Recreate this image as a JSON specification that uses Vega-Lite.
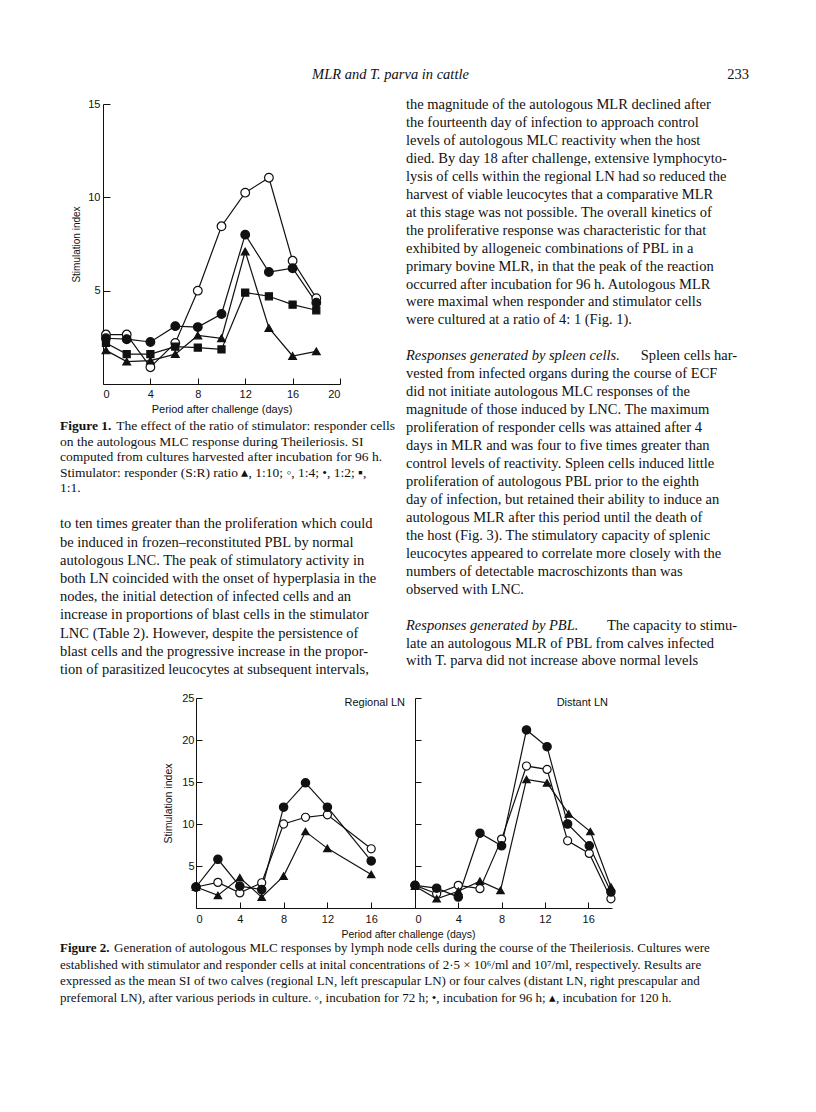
{
  "$schema": "https://vega.github.io/schema/vega-lite/v6.json",
  "background": "white",
  "padding": {"left": 60, "top": 65, "right": 20, "bottom": 20},
  "spacing": 13,
  "config": {
    "view": {"stroke": null},
    "axis": {"grid": false, "domainColor": "#111", "tickColor": "#111", "labelColor": "#111", "titleColor": "#111", "labelFont": "Liberation Sans", "titleFont": "Liberation Sans", "titleFontWeight": "normal", "domainWidth": 1, "tickWidth": 1}
  },
  "datasets": {
    "header": [
      {"pos": "center", "t": "MLR and T. parva in cattle"},
      {"pos": "right", "t": "233"}
    ],
    "fig1": [
      {"s": "1:4", "d": 0.25, "v": 2.65}, {"s": "1:4", "d": 2, "v": 2.65}, {"s": "1:4", "d": 4, "v": 0.9}, {"s": "1:4", "d": 6.1, "v": 2.2}, {"s": "1:4", "d": 8, "v": 5.0}, {"s": "1:4", "d": 10, "v": 8.45}, {"s": "1:4", "d": 12, "v": 10.25}, {"s": "1:4", "d": 14, "v": 11.05}, {"s": "1:4", "d": 16, "v": 6.6}, {"s": "1:4", "d": 18, "v": 4.6},
      {"s": "1:10", "d": 0.25, "v": 1.8}, {"s": "1:10", "d": 2, "v": 1.2}, {"s": "1:10", "d": 4, "v": 1.25}, {"s": "1:10", "d": 6.1, "v": 1.6}, {"s": "1:10", "d": 8, "v": 2.6}, {"s": "1:10", "d": 10, "v": 2.45}, {"s": "1:10", "d": 12, "v": 7.1}, {"s": "1:10", "d": 14, "v": 3.0}, {"s": "1:10", "d": 16, "v": 1.5}, {"s": "1:10", "d": 18, "v": 1.75},
      {"s": "1:1", "d": 0.25, "v": 2.2}, {"s": "1:1", "d": 2, "v": 1.6}, {"s": "1:1", "d": 4, "v": 1.6}, {"s": "1:1", "d": 6.1, "v": 2.0}, {"s": "1:1", "d": 8, "v": 1.95}, {"s": "1:1", "d": 10, "v": 1.85}, {"s": "1:1", "d": 12, "v": 4.9}, {"s": "1:1", "d": 14, "v": 4.7}, {"s": "1:1", "d": 16, "v": 4.25}, {"s": "1:1", "d": 18, "v": 3.95},
      {"s": "1:2", "d": 0.25, "v": 2.45}, {"s": "1:2", "d": 2, "v": 2.4}, {"s": "1:2", "d": 4, "v": 2.25}, {"s": "1:2", "d": 6.1, "v": 3.1}, {"s": "1:2", "d": 8, "v": 3.05}, {"s": "1:2", "d": 10, "v": 3.75}, {"s": "1:2", "d": 12, "v": 8.0}, {"s": "1:2", "d": 14, "v": 6.0}, {"s": "1:2", "d": 16, "v": 6.2}, {"s": "1:2", "d": 18, "v": 4.35}
    ],
    "regional": [
      {"s": "72 h", "d": 0, "v": 2.5}, {"s": "72 h", "d": 2, "v": 3.05}, {"s": "72 h", "d": 4, "v": 1.8}, {"s": "72 h", "d": 6, "v": 3.0}, {"s": "72 h", "d": 8, "v": 10.0}, {"s": "72 h", "d": 10, "v": 10.8}, {"s": "72 h", "d": 12, "v": 11.1}, {"s": "72 h", "d": 16, "v": 7.05},
      {"s": "120 h", "d": 0, "v": 2.5}, {"s": "120 h", "d": 2, "v": 1.5}, {"s": "120 h", "d": 4, "v": 3.6}, {"s": "120 h", "d": 6, "v": 1.3}, {"s": "120 h", "d": 8, "v": 3.8}, {"s": "120 h", "d": 10, "v": 9.1}, {"s": "120 h", "d": 12, "v": 7.1}, {"s": "120 h", "d": 16, "v": 4.0},
      {"s": "96 h", "d": 0, "v": 2.5}, {"s": "96 h", "d": 2, "v": 5.8}, {"s": "96 h", "d": 4, "v": 2.6}, {"s": "96 h", "d": 6, "v": 2.2}, {"s": "96 h", "d": 8, "v": 12.0}, {"s": "96 h", "d": 10, "v": 14.9}, {"s": "96 h", "d": 12, "v": 12.0}, {"s": "96 h", "d": 16, "v": 5.6}
    ],
    "distant": [
      {"s": "72 h", "d": 0, "v": 2.7}, {"s": "72 h", "d": 2, "v": 1.7}, {"s": "72 h", "d": 4, "v": 2.7}, {"s": "72 h", "d": 6, "v": 2.3}, {"s": "72 h", "d": 8, "v": 8.2}, {"s": "72 h", "d": 10.3, "v": 16.9}, {"s": "72 h", "d": 12.2, "v": 16.5}, {"s": "72 h", "d": 14.1, "v": 8.0}, {"s": "72 h", "d": 16.1, "v": 6.5}, {"s": "72 h", "d": 18.1, "v": 1.1},
      {"s": "96 h", "d": 0, "v": 2.7}, {"s": "96 h", "d": 2, "v": 2.36}, {"s": "96 h", "d": 4, "v": 1.3}, {"s": "96 h", "d": 6, "v": 8.9}, {"s": "96 h", "d": 8, "v": 7.4}, {"s": "96 h", "d": 10.3, "v": 21.2}, {"s": "96 h", "d": 12.2, "v": 19.2}, {"s": "96 h", "d": 14.1, "v": 10.0}, {"s": "96 h", "d": 16.1, "v": 7.4}, {"s": "96 h", "d": 18.1, "v": 1.9},
      {"s": "120 h", "d": 0, "v": 2.6}, {"s": "120 h", "d": 2, "v": 1.1}, {"s": "120 h", "d": 4, "v": 2.0}, {"s": "120 h", "d": 6, "v": 3.2}, {"s": "120 h", "d": 7.9, "v": 2.1}, {"s": "120 h", "d": 10.3, "v": 15.3}, {"s": "120 h", "d": 12.2, "v": 14.9}, {"s": "120 h", "d": 14.2, "v": 11.2}, {"s": "120 h", "d": 16.2, "v": 9.1}, {"s": "120 h", "d": 18.1, "v": 2.5}
    ],
    "caption1": [
      {"i": 0, "seg": "bold", "t": "Figure 1."},
      {"i": 0, "seg": "tail", "t": "The effect of the ratio of stimulator: responder cells"},
      {"i": 1, "seg": "main", "t": "on the autologous MLC response during Theileriosis. SI"},
      {"i": 2, "seg": "main", "t": "computed from cultures harvested after incubation for 96 h."},
      {"i": 3, "seg": "main", "t": "Stimulator: responder (S:R) ratio ▴, 1:10; ◦, 1:4; •, 1:2; ▪,"},
      {"i": 4, "seg": "main", "t": "1:1."},
      {"i": 5, "seg": "main", "t": ""}
    ],
    "para1": [
      {"i": 0, "t": "to ten times greater than the proliferation which could"},
      {"i": 1, "t": "be induced in frozen–reconstituted PBL by normal"},
      {"i": 2, "t": "autologous LNC. The peak of stimulatory activity in"},
      {"i": 3, "t": "both LN coincided with the onset of hyperplasia in the"},
      {"i": 4, "t": "nodes, the initial detection of infected cells and an"},
      {"i": 5, "t": "increase in proportions of blast cells in the stimulator"},
      {"i": 6, "t": "LNC (Table 2). However, despite the persistence of"},
      {"i": 7, "t": "blast cells and the progressive increase in the propor-"},
      {"i": 8, "t": "tion of parasitized leucocytes at subsequent intervals,"}
    ],
    "right": [
      {"i": 0, "seg": "main", "t": "the magnitude of the autologous MLR declined after"},
      {"i": 1, "seg": "main", "t": "the fourteenth day of infection to approach control"},
      {"i": 2, "seg": "main", "t": "levels of autologous MLC reactivity when the host"},
      {"i": 3, "seg": "main", "t": "died. By day 18 after challenge, extensive lymphocyto-"},
      {"i": 4, "seg": "main", "t": "lysis of cells within the regional LN had so reduced the"},
      {"i": 5, "seg": "main", "t": "harvest of viable leucocytes that a comparative MLR"},
      {"i": 6, "seg": "main", "t": "at this stage was not possible. The overall kinetics of"},
      {"i": 7, "seg": "main", "t": "the proliferative response was characteristic for that"},
      {"i": 8, "seg": "main", "t": "exhibited by allogeneic combinations of PBL in a"},
      {"i": 9, "seg": "main", "t": "primary bovine MLR, in that the peak of the reaction"},
      {"i": 10, "seg": "main", "t": "occurred after incubation for 96 h. Autologous MLR"},
      {"i": 11, "seg": "main", "t": "were maximal when responder and stimulator cells"},
      {"i": 12, "seg": "main", "t": "were cultured at a ratio of 4: 1 (Fig. 1)."},
      {"i": 13, "seg": "main", "t": ""},
      {"i": 14, "seg": "ital", "t": "   Responses generated by spleen cells."},
      {"i": 14, "seg": "tail", "t": "Spleen cells har-"},
      {"i": 15, "seg": "main", "t": "vested from infected organs during the course of ECF"},
      {"i": 16, "seg": "main", "t": "did not initiate autologous MLC responses of the"},
      {"i": 17, "seg": "main", "t": "magnitude of those induced by LNC. The maximum"},
      {"i": 18, "seg": "main", "t": "proliferation of responder cells was attained after 4"},
      {"i": 19, "seg": "main", "t": "days in MLR and was four to five times greater than"},
      {"i": 20, "seg": "main", "t": "control levels of reactivity. Spleen cells induced little"},
      {"i": 21, "seg": "main", "t": "proliferation of autologous PBL prior to the eighth"},
      {"i": 22, "seg": "main", "t": "day of infection, but retained their ability to induce an"},
      {"i": 23, "seg": "main", "t": "autologous MLR after this period until the death of"},
      {"i": 24, "seg": "main", "t": "the host (Fig. 3). The stimulatory capacity of splenic"},
      {"i": 25, "seg": "main", "t": "leucocytes appeared to correlate more closely with the"},
      {"i": 26, "seg": "main", "t": "numbers of detectable macroschizonts than was"},
      {"i": 27, "seg": "main", "t": "observed with LNC."},
      {"i": 28, "seg": "main", "t": ""},
      {"i": 29, "seg": "ital", "t": "   Responses generated by PBL."},
      {"i": 29, "seg": "tail", "t": "The capacity to stimu-"},
      {"i": 30, "seg": "main", "t": "late an autologous MLR of PBL from calves infected"},
      {"i": 31, "seg": "main", "t": "with T. parva did not increase above normal levels"}
    ],
    "caption2": [
      {"i": 0, "seg": "bold", "t": "Figure 2."},
      {"i": 0, "seg": "tail", "t": "Generation of autologous MLC responses by lymph node cells during the course of the Theileriosis. Cultures were"},
      {"i": 1, "seg": "main", "t": "established with stimulator and responder cells at inital concentrations of 2·5 × 10⁶/ml and 10⁷/ml, respectively. Results are"},
      {"i": 2, "seg": "main", "t": "expressed as the mean SI of two calves (regional LN, left prescapular LN) or four calves (distant LN, right prescapular and"},
      {"i": 3, "seg": "main", "t": "prefemoral LN), after various periods in culture. ◦, incubation for 72 h; •, incubation for 96 h; ▴, incubation for 120 h."}
    ]
  },
  "vconcat": [
    {
      "width": 689,
      "height": 19,
      "data": {"name": "header"},
      "layer": [
        {
          "transform": [{"filter": "datum.pos == 'center'"}],
          "mark": {"type": "text", "font": "Liberation Serif", "fontStyle": "italic", "fontSize": 14.5, "align": "center", "baseline": "middle", "color": "#111", "dx": -14},
          "encoding": {
            "x": {"field": "pos", "type": "nominal", "scale": {"type": "point", "domain": ["left", "center", "right"], "padding": 0}, "axis": null},
            "text": {"field": "t"}
          }
        },
        {
          "transform": [{"filter": "datum.pos == 'right'"}],
          "mark": {"type": "text", "font": "Liberation Serif", "fontSize": 14.5, "align": "right", "baseline": "middle", "color": "#111"},
          "encoding": {
            "x": {"field": "pos", "type": "nominal", "scale": {"type": "point", "domain": ["left", "center", "right"], "padding": 0}, "axis": null},
            "text": {"field": "t"}
          }
        }
      ]
    },
    {
      "spacing": 6,
      "hconcat": [
        {
          "spacing": 3.6,
          "vconcat": [
            {
              "bounds": "flush",
              "spacing": 0,
              "hconcat": [
                {"width": 43, "height": 1, "data": {"values": []}, "mark": "point", "encoding": {}},
                {
                  "width": 237,
                  "height": 280,
                  "data": {"name": "fig1"},
                  "encoding": {
                    "x": {"field": "d", "type": "quantitative", "scale": {"domain": [0, 20]}, "axis": {"values": [0, 4, 8, 12, 16, 20], "tickSize": -6, "labelPadding": 10, "labelFontSize": 11, "title": "Period after challenge (days)", "titleFontSize": 11, "titlePadding": 4.5}},
                    "y": {"field": "v", "type": "quantitative", "scale": {"domain": [0, 15]}, "axis": {"values": [5, 10, 15], "tickSize": -7, "labelPadding": 10, "labelFontSize": 11, "title": "Stimulation index", "titleFontSize": 10, "titlePadding": 6}}
                  },
                  "layer": [
                    {"mark": {"type": "line", "color": "#111", "strokeWidth": 1.2}, "encoding": {"detail": {"field": "s"}}},
                    {
                      "mark": {"type": "point", "filled": true, "opacity": 1, "stroke": "#111", "strokeWidth": 1.2},
                      "encoding": {
                        "shape": {"field": "s", "type": "nominal", "scale": {"domain": ["1:10", "1:4", "1:2", "1:1", "72 h", "96 h", "120 h"], "range": ["triangle-up", "circle", "circle", "square", "circle", "circle", "triangle-up"]}, "legend": null},
                        "fill": {"field": "s", "type": "nominal", "scale": {"domain": ["1:10", "1:4", "1:2", "1:1", "72 h", "96 h", "120 h"], "range": ["#111", "#ffffff", "#111", "#111", "#ffffff", "#111", "#111"]}, "legend": null},
                        "size": {"field": "s", "type": "nominal", "scale": {"type": "ordinal", "domain": ["1:10", "1:4", "1:2", "1:1", "72 h", "96 h", "120 h"], "range": [60, 75, 75, 50, 65, 70, 55]}, "legend": null}
                      }
                    }
                  ]
                }
              ]
            },
            {
              "width": 335,
              "height": {"step": 15.5},
              "data": {"name": "caption1"},
              "encoding": {
                "y": {"field": "i", "type": "ordinal", "axis": null},
                "text": {"field": "t"}
              },
              "layer": [
                {
                  "transform": [{"filter": "datum.seg == 'main'"}],
                  "mark": {"type": "text", "align": "left", "baseline": "middle", "font": "Liberation Serif", "fontSize": 13.5, "color": "#111"},
                  "encoding": {"x": {"datum": 0, "type": "quantitative", "scale": {"domain": [0, 1]}, "axis": null}}
                },
                {
                  "transform": [{"filter": "datum.seg == 'bold'"}],
                  "mark": {"type": "text", "align": "left", "baseline": "middle", "font": "Liberation Serif", "fontWeight": "bold", "fontSize": 13.5, "color": "#111"},
                  "encoding": {"x": {"datum": 0, "type": "quantitative", "scale": {"domain": [0, 1]}, "axis": null}}
                },
                {
                  "transform": [{"filter": "datum.seg == 'tail'"}],
                  "mark": {"type": "text", "align": "right", "baseline": "middle", "font": "Liberation Serif", "fontSize": 13.5, "color": "#111"},
                  "encoding": {"x": {"datum": 1, "type": "quantitative", "scale": {"domain": [0, 1]}, "axis": null}}
                }
              ]
            },
            {
              "width": 340,
              "height": {"step": 18.2},
              "data": {"name": "para1"},
              "mark": {"type": "text", "align": "left", "baseline": "middle", "font": "Liberation Serif", "fontSize": 14.5, "color": "#111"},
              "encoding": {
                "y": {"field": "i", "type": "ordinal", "axis": null},
                "x": {"datum": 0, "type": "quantitative", "scale": {"domain": [0, 1]}, "axis": null},
                "text": {"field": "t"}
              }
            }
          ]
        },
        {
          "width": 331,
          "height": {"step": 17.95},
          "data": {"name": "right"},
          "encoding": {
            "y": {"field": "i", "type": "ordinal", "scale": {"padding": 0.056}, "axis": null},
            "text": {"field": "t"}
          },
          "layer": [
            {
              "transform": [{"filter": "datum.seg == 'main'"}],
              "mark": {"type": "text", "align": "left", "baseline": "middle", "font": "Liberation Serif", "fontSize": 14.5, "color": "#111"},
              "encoding": {"x": {"datum": 0, "type": "quantitative", "scale": {"domain": [0, 1]}, "axis": null}}
            },
            {
              "transform": [{"filter": "datum.seg == 'ital'"}],
              "mark": {"type": "text", "align": "left", "baseline": "middle", "font": "Liberation Serif", "fontStyle": "italic", "fontSize": 14.5, "color": "#111"},
              "encoding": {"x": {"datum": 0, "type": "quantitative", "scale": {"domain": [0, 1]}, "axis": null}}
            },
            {
              "transform": [{"filter": "datum.seg == 'tail'"}],
              "mark": {"type": "text", "align": "right", "baseline": "middle", "font": "Liberation Serif", "fontSize": 14.5, "color": "#111"},
              "encoding": {"x": {"datum": 1, "type": "quantitative", "scale": {"domain": [0, 1]}, "axis": null}}
            }
          ]
        }
      ]
    },
    {
      "spacing": -7.75,
      "vconcat": [
        {
          "bounds": "flush",
          "spacing": 0,
          "hconcat": [
            {"width": 136, "height": 1, "data": {"values": []}, "mark": "point", "encoding": {}},
            {
              "width": 219,
              "height": 210,
              "data": {"name": "regional"},
              "title": {"text": "Regional LN", "anchor": "end", "frame": "group", "orient": "top", "offset": -22, "baseline": "middle", "dx": -10, "font": "Liberation Sans", "fontSize": 11, "fontWeight": "normal", "color": "#111"},
              "encoding": {
                "x": {"field": "d", "type": "quantitative", "scale": {"domain": [0, 20]}, "axis": {"values": [0, 4, 8, 12, 16], "tickSize": -6, "labelPadding": 11, "labelFontSize": 11, "title": "Period after challenge (days)", "titleFontSize": 10.5, "titleX": 212, "titlePadding": 5}},
                "y": {"field": "v", "type": "quantitative", "scale": {"domain": [0, 25]}, "axis": {"values": [5, 10, 15, 20, 25], "tickSize": -6, "labelPadding": 8, "labelFontSize": 11, "title": "Stimulation index", "titleFontSize": 10.5, "titlePadding": 8}}
              },
              "layer": [
                {"mark": {"type": "line", "color": "#111", "strokeWidth": 1.2}, "encoding": {"detail": {"field": "s"}}},
                {
                  "mark": {"type": "point", "filled": true, "opacity": 1, "stroke": "#111", "strokeWidth": 1.2},
                  "encoding": {
                    "shape": {"field": "s", "type": "nominal", "scale": {"domain": ["1:10", "1:4", "1:2", "1:1", "72 h", "96 h", "120 h"], "range": ["triangle-up", "circle", "circle", "square", "circle", "circle", "triangle-up"]}, "legend": null},
                    "fill": {"field": "s", "type": "nominal", "scale": {"domain": ["1:10", "1:4", "1:2", "1:1", "72 h", "96 h", "120 h"], "range": ["#111", "#ffffff", "#111", "#111", "#ffffff", "#111", "#111"]}, "legend": null},
                    "size": {"field": "s", "type": "nominal", "scale": {"type": "ordinal", "domain": ["1:10", "1:4", "1:2", "1:1", "72 h", "96 h", "120 h"], "range": [60, 75, 75, 50, 65, 70, 55]}, "legend": null}
                  }
                }
              ]
            },
            {
              "width": 197,
              "height": 210,
              "data": {"name": "distant"},
              "title": {"text": "Distant LN", "anchor": "end", "frame": "group", "orient": "top", "offset": -16, "baseline": "middle", "dx": -4, "font": "Liberation Sans", "fontSize": 11, "fontWeight": "normal", "color": "#111"},
              "encoding": {
                "x": {"field": "d", "type": "quantitative", "scale": {"domain": [0, 18.2]}, "axis": {"values": [0, 4, 8, 12, 16], "tickSize": -6, "labelPadding": 11, "labelFontSize": 11, "title": null}},
                "y": {"field": "v", "type": "quantitative", "scale": {"domain": [0, 25]}, "axis": {"values": [5, 10, 15, 20, 25], "tickSize": -6, "labels": false, "title": null}}
              },
              "layer": [
                {"mark": {"type": "line", "color": "#111", "strokeWidth": 1.2}, "encoding": {"detail": {"field": "s"}}},
                {
                  "mark": {"type": "point", "filled": true, "opacity": 1, "stroke": "#111", "strokeWidth": 1.2},
                  "encoding": {
                    "shape": {"field": "s", "type": "nominal", "scale": {"domain": ["1:10", "1:4", "1:2", "1:1", "72 h", "96 h", "120 h"], "range": ["triangle-up", "circle", "circle", "square", "circle", "circle", "triangle-up"]}, "legend": null},
                    "fill": {"field": "s", "type": "nominal", "scale": {"domain": ["1:10", "1:4", "1:2", "1:1", "72 h", "96 h", "120 h"], "range": ["#111", "#ffffff", "#111", "#111", "#ffffff", "#111", "#111"]}, "legend": null},
                    "size": {"field": "s", "type": "nominal", "scale": {"type": "ordinal", "domain": ["1:10", "1:4", "1:2", "1:1", "72 h", "96 h", "120 h"], "range": [60, 75, 75, 50, 65, 70, 55]}, "legend": null}
                  }
                }
              ]
            }
          ]
        },
        {
          "width": 723,
          "height": {"step": 16.5},
          "data": {"name": "caption2"},
          "encoding": {
            "y": {"field": "i", "type": "ordinal", "axis": null},
            "text": {"field": "t"}
          },
          "layer": [
            {
              "transform": [{"filter": "datum.seg == 'main'"}],
              "mark": {"type": "text", "align": "left", "baseline": "middle", "font": "Liberation Serif", "fontSize": 13, "color": "#111"},
              "encoding": {"x": {"datum": 0, "type": "quantitative", "scale": {"domain": [0, 1]}, "axis": null}}
            },
            {
              "transform": [{"filter": "datum.seg == 'bold'"}],
              "mark": {"type": "text", "align": "left", "baseline": "middle", "font": "Liberation Serif", "fontWeight": "bold", "fontSize": 13, "color": "#111"},
              "encoding": {"x": {"datum": 0, "type": "quantitative", "scale": {"domain": [0, 1]}, "axis": null}}
            },
            {
              "transform": [{"filter": "datum.seg == 'tail'"}],
              "mark": {"type": "text", "align": "left", "baseline": "middle", "font": "Liberation Serif", "fontSize": 13, "color": "#111"},
              "encoding": {"x": {"datum": 0.0747, "type": "quantitative", "scale": {"domain": [0, 1]}, "axis": null}}
            }
          ]
        }
      ]
    }
  ]
}
